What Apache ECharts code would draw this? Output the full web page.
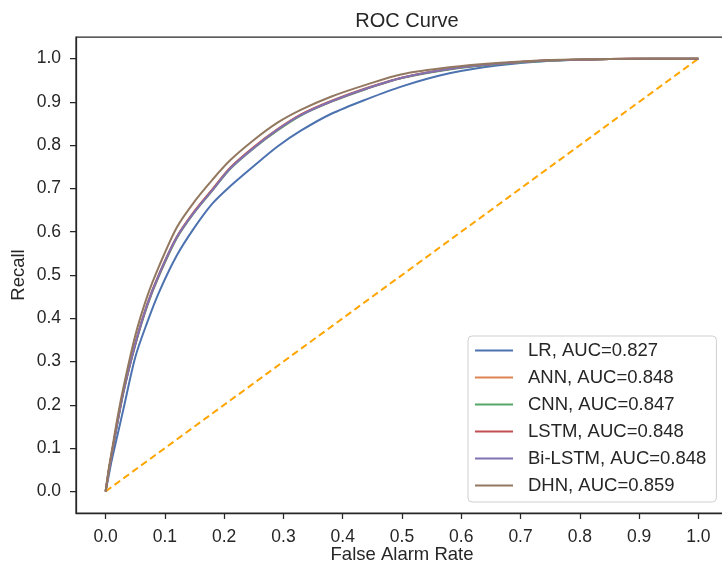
<!DOCTYPE html>
<html>
<head>
<meta charset="utf-8">
<script src="https://cdn.jsdelivr.net/npm/echarts@6/dist/echarts.min.js"></script>
<style>
  html, body { margin: 0; padding: 0; background: #ffffff; }
  #chart { width: 722px; height: 566px; }
</style>
</head>
<body>
<div id="chart"></div>
<script>
// Tick labels
const xTicks = [0.0, 0.1, 0.2, 0.3, 0.4, 0.5, 0.6, 0.7, 0.8, 0.9, 1.0];
const yTicks = [0.0, 0.1, 0.2, 0.3, 0.4, 0.5, 0.6, 0.7, 0.8, 0.9, 1.0];

// Model names and scores
const models = ['LR', 'ANN', 'CNN', 'LSTM', 'Bi-LSTM', 'DHN'];
const aucs = [0.827, 0.848, 0.847, 0.848, 0.848, 0.859];

// ROC points per model (false alarm rate / recall)
const fprLR = [0, 0.005, 0.01, 0.02, 0.03, 0.05, 0.07, 0.09, 0.12, 0.15, 0.18, 0.21, 0.25, 0.29, 0.33, 0.38, 0.44, 0.5, 0.58, 0.66, 0.75, 0.85, 0.93, 1.0];
const tprLR = [0, 0.035, 0.07, 0.13, 0.19, 0.31, 0.39, 0.46, 0.545, 0.61, 0.665, 0.705, 0.752, 0.797, 0.834, 0.872, 0.906, 0.936, 0.966, 0.984, 0.995, 0.999, 1.0, 1.0];

const fprANN = [0, 0.005, 0.01, 0.02, 0.03, 0.05, 0.07, 0.09, 0.12, 0.15, 0.18, 0.21, 0.25, 0.29, 0.33, 0.38, 0.44, 0.5, 0.58, 0.66, 0.75, 0.85, 0.93, 1.0];
const tprANN = [0, 0.046, 0.086, 0.162, 0.232, 0.342, 0.432, 0.502, 0.588, 0.648, 0.698, 0.748, 0.796, 0.837, 0.871, 0.902, 0.932, 0.956, 0.976, 0.988, 0.996, 0.999, 1.0, 1.0];

const fprCNN = [0, 0.005, 0.01, 0.02, 0.03, 0.05, 0.07, 0.09, 0.12, 0.15, 0.18, 0.21, 0.25, 0.29, 0.33, 0.38, 0.44, 0.5, 0.58, 0.66, 0.75, 0.85, 0.93, 1.0];
const tprCNN = [0, 0.044, 0.084, 0.158, 0.228, 0.338, 0.428, 0.498, 0.585, 0.645, 0.695, 0.745, 0.793, 0.834, 0.869, 0.900, 0.930, 0.955, 0.975, 0.987, 0.995, 0.999, 1.0, 1.0];

const fprLSTM = [0, 0.005, 0.01, 0.02, 0.03, 0.05, 0.07, 0.09, 0.12, 0.15, 0.18, 0.21, 0.25, 0.29, 0.33, 0.38, 0.44, 0.5, 0.58, 0.66, 0.75, 0.85, 0.93, 1.0];
const tprLSTM = [0, 0.045, 0.085, 0.160, 0.230, 0.340, 0.430, 0.500, 0.587, 0.647, 0.697, 0.747, 0.795, 0.836, 0.871, 0.901, 0.931, 0.956, 0.976, 0.988, 0.996, 0.999, 1.0, 1.0];

const fprBiLSTM = [0, 0.005, 0.01, 0.02, 0.03, 0.05, 0.07, 0.09, 0.12, 0.15, 0.18, 0.21, 0.25, 0.29, 0.33, 0.38, 0.44, 0.5, 0.58, 0.66, 0.75, 0.85, 0.93, 1.0];
const tprBiLSTM = [0, 0.045, 0.085, 0.160, 0.231, 0.341, 0.431, 0.501, 0.587, 0.646, 0.696, 0.746, 0.794, 0.836, 0.870, 0.901, 0.931, 0.956, 0.976, 0.988, 0.996, 0.999, 1.0, 1.0];

const fprDHN = [0, 0.005, 0.01, 0.02, 0.03, 0.05, 0.07, 0.09, 0.12, 0.15, 0.18, 0.21, 0.25, 0.29, 0.33, 0.38, 0.44, 0.5, 0.58, 0.66, 0.75, 0.85, 0.93, 1.0];
const tprDHN = [0, 0.05, 0.09, 0.17, 0.24, 0.36, 0.45, 0.52, 0.61, 0.67, 0.72, 0.765, 0.812, 0.852, 0.882, 0.912, 0.94, 0.964, 0.98, 0.99, 0.997, 0.999, 1.0, 1.0];

// Chance line
const chanceX = [0, 1];
const chanceY = [0, 1];

const fprAll = [fprLR, fprANN, fprCNN, fprLSTM, fprBiLSTM, fprDHN];
const tprAll = [tprLR, tprANN, tprCNN, tprLSTM, tprBiLSTM, tprDHN];
const colors = ['#4C72B0', '#DD8452', '#55A868', '#C44E52', '#8172B3', '#937860'];

const textColor = '#262626';
const fontFamily = '"Liberation Sans", Arial, sans-serif';

function pairs(xs, ys) {
  return xs.map((x, i) => [x, ys[i]]);
}

const labels = models.map((m, i) => m + ', AUC=' + aucs[i].toFixed(3));

const series = models.map((m, i) => ({
  name: labels[i],
  type: 'line',
  data: pairs(fprAll[i], tprAll[i]),
  showSymbol: false,
  symbol: 'none',
  smooth: 0.3,
  lineStyle: { color: colors[i], width: 2 },
  itemStyle: { color: colors[i] },
  z: 3 + i,
  animation: false
}));

series.push({
  name: 'chance',
  type: 'line',
  data: pairs(chanceX, chanceY),
  symbol: 'none',
  lineStyle: { color: '#FFA500', width: 2, type: [7, 4] },
  z: 2,
  animation: false
});

const chart = echarts.init(document.getElementById('chart'), null, { renderer: 'canvas' });
chart.setOption({
  backgroundColor: '#ffffff',
  animation: false,
  title: {
    text: 'ROC Curve',
    left: 402,
    textAlign: 'center',
    top: 6,
    textStyle: { fontFamily, fontSize: 20, fontWeight: 'normal', color: textColor }
  },
  grid: {
    left: 76,
    right: -6,
    top: 37,
    bottom: 53,
    containLabel: false,
    outerBoundsMode: 'none',
    show: true,
    borderColor: textColor,
    borderWidth: 1.25,
    backgroundColor: 'transparent'
  },
  legend: {
    data: labels,
    orient: 'vertical',
    left: 468,
    top: 336,
    padding: [5, 10, 7, 7],
    itemGap: 8,
    itemWidth: 38,
    itemHeight: 2,
    icon: 'rect',
    backgroundColor: '#ffffff',
    borderColor: '#d0d0d0',
    borderWidth: 1,
    borderRadius: 4,
    textStyle: { fontFamily, fontSize: 18.5, color: textColor, padding: [0, 0, 0, 10] }
  },
  xAxis: {
    type: 'value',
    min: -0.05,
    max: 1.05,
    interval: 0.1,
    name: 'False Alarm Rate',
    nameLocation: 'middle',
    nameGap: 32,
    nameMoveOverlap: false,
    nameTextStyle: { fontFamily, fontSize: 18.5, color: textColor },
    axisLine: { show: true, onZero: false, lineStyle: { color: textColor, width: 1.25 } },
    axisTick: {
      show: true, length: 6, inside: false,
      lineStyle: { color: textColor, width: 1.25 },
      customValues: xTicks
    },
    axisLabel: {
      fontFamily, fontSize: 17.5, color: textColor, margin: 15,
      customValues: xTicks,
      formatter: v => v.toFixed(1)
    },
    splitLine: { show: false }
  },
  yAxis: {
    type: 'value',
    min: -0.05,
    max: 1.05,
    interval: 0.1,
    name: 'Recall',
    nameLocation: 'middle',
    nameGap: 48,
    nameMoveOverlap: false,
    nameRotate: 90,
    nameTextStyle: { fontFamily, fontSize: 18.5, color: textColor },
    axisLine: { show: true, onZero: false, lineStyle: { color: textColor, width: 1.25 } },
    axisTick: {
      show: true, length: 6, inside: false,
      lineStyle: { color: textColor, width: 1.25 },
      customValues: yTicks
    },
    axisLabel: {
      fontFamily, fontSize: 17.5, color: textColor, margin: 15,
      customValues: yTicks,
      formatter: v => v.toFixed(1)
    },
    splitLine: { show: false }
  },
  series
});
</script>
</body>
</html>
